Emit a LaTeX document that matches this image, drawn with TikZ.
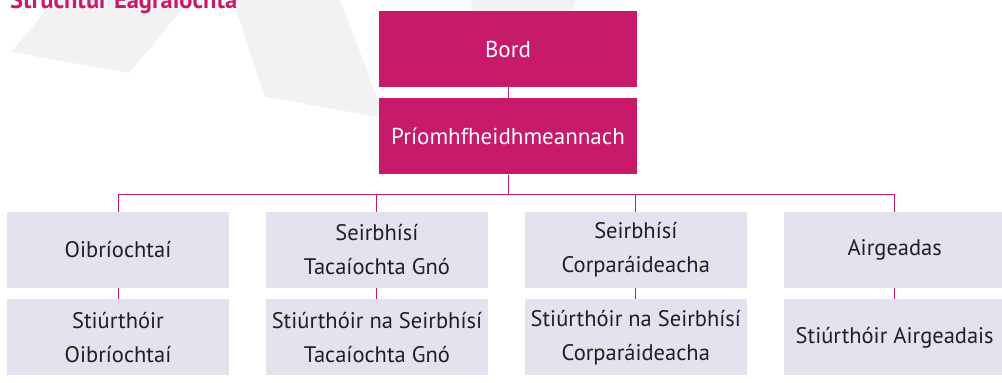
\documentclass[tikz,border=0pt]{standalone}
\usepackage{fontspec}
\setmainfont{PT Sans}
\usetikzlibrary{positioning}

\definecolor{orgpink}{RGB}{200,26,107}
\definecolor{orggrey}{RGB}{227,227,239}
\definecolor{shadegrey}{RGB}{242,242,242}
\definecolor{orgtext}{RGB}{35,31,32}

\tikzset{
  topbox/.style={fill=orgpink,text=white,minimum width=258pt,minimum height=76pt,inner sep=0pt,align=center,font=\fontsize{23}{34}\selectfont},
  unitbox/.style={fill=orggrey,text=orgtext,minimum width=222pt,minimum height=76pt,inner sep=0pt,align=center,font=\fontsize{22.5}{34}\selectfont},
  orgline/.style={draw=orgpink,line width=1pt},
}

\begin{document}
\begin{tikzpicture}[x=1pt,y=-1pt]
		\useasboundingbox (0,0) rectangle (1002,383);
		% faint backdrop
		\fill[shadegrey] (55,0) -- (11,52) -- (129,73) -- (190,0) -- cycle;
		\fill[shadegrey] (233,0) -- (265,97) -- (385,118) -- (340,0) -- cycle;
		\fill[shadegrey] (471,0) -- (575,0) -- (560,60) -- (480,60) -- cycle;
		\node[anchor=base west,inner sep=0pt,text=orgpink,font=\bfseries\fontsize{24.5}{28}\selectfont] (title) at (10,8) {Struchtúr Eagraíochta};
		
		\node[topbox] (bord) at (508,49) {Bord};
		\node[topbox,below=11pt of bord] (ceo) {Príomhfheidhmeannach};
		
		\node[unitbox] (ops) at (118,250) {Oibríochtaí};
		\node[unitbox,right=36.5pt of ops] (supp) {Seirbhísí\\Tacaíochta Gnó};
		\node[unitbox,right=36.5pt of supp] (corp) {Seirbhísí\\Corparáideacha};
		\node[unitbox,right=36.5pt of corp] (fin) {Airgeadas};
		
		\node[unitbox,below=11pt of ops] (opsdir) {Stiúrthóir\\Oibríochtaí};
		\node[unitbox,below=11pt of supp] (suppdir) {Stiúrthóir na Seirbhísí\\Tacaíochta Gnó};
		\node[unitbox,below=11pt of corp] (corpdir) {Stiúrthóir na Seirbhísí\\Corparáideacha};
		\node[unitbox,below=11pt of fin] (findir) {Stiúrthóir Airgeadais};
		
		\draw[orgline] (bord.south) -- (ceo.north);
		\foreach \u in {ops,supp,corp,fin}
			\draw[orgline] (ceo.south) -- ++(0,20) -| (\u.north);
		\foreach \u/\d in {ops/opsdir,supp/suppdir,corp/corpdir,fin/findir}
			\draw[orgline] (\u.south) -- (\d.north);
	\end{tikzpicture}
\end{document}
